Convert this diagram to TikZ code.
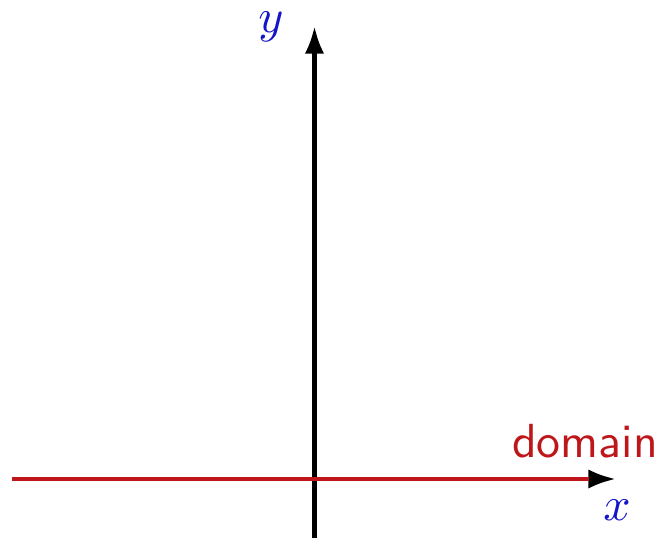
\documentclass[tikz,border=0pt]{standalone}
\usetikzlibrary{arrows.meta}
\definecolor{dred}{RGB}{190,22,26}
\definecolor{dblue}{RGB}{20,20,200}
\begin{document}
\begin{tikzpicture}[x=0.2174pt,y=-0.2174pt,
  axis/.style={line width=0.95pt,draw=black,-{Latex[length=6pt,width=4.2pt]}},
  dom/.style={line width=0.95pt,draw=dred},
  lbl/.style={text=dblue,inner sep=0pt,anchor=base,scale=1.04}]
\useasboundingbox (0,0) rectangle (659,538);
\coordinate (xs) at (12,479);
\coordinate (xe) at (616,479);
\coordinate (de) at (589,479);
\coordinate (ys) at (314.5,538);
\coordinate (ye) at (314.5,26);
\draw[axis] (xs) -- (xe);
\draw[axis] (ys) -- (ye);
\draw[dom] (xs) -- (de);
\node[lbl] (xl) at (617,520) {$x$};
\node[lbl] (yl) at (271,32) {$y$};
\node[inner sep=0pt,anchor=base,text=dred,font=\sffamily,scale=1.04] (dl) at (585,457) {domain};
\end{tikzpicture}
\end{document}
